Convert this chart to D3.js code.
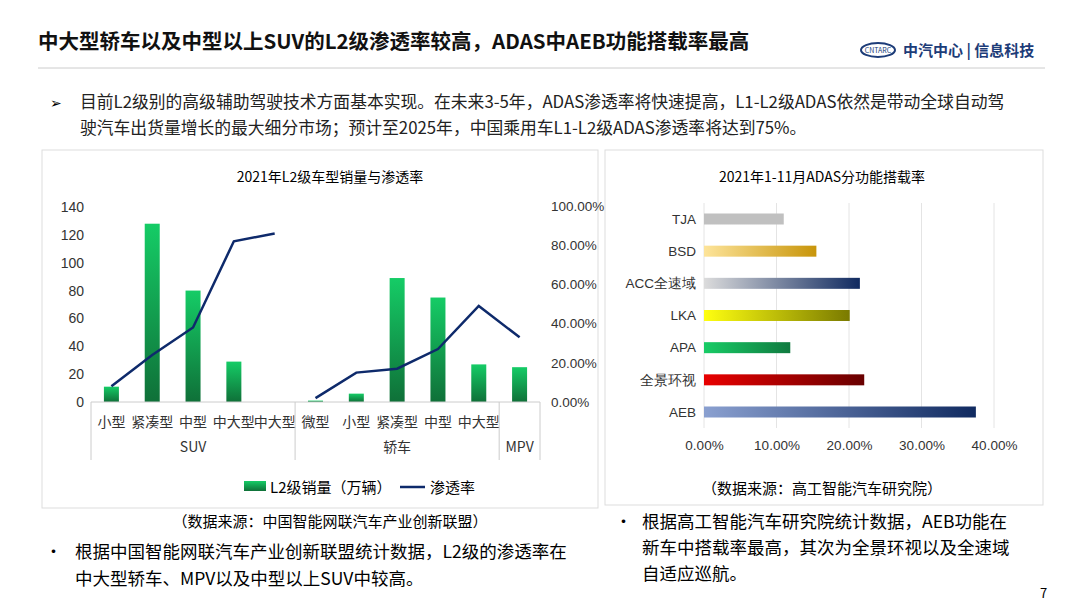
<!DOCTYPE html>
<html><head><meta charset="utf-8">
<script src="https://cdn.jsdelivr.net/npm/d3@7"></script>
<style>body{margin:0;background:#fff}svg{font-family:"Microsoft YaHei","Noto Sans CJK SC",sans-serif}</style>
</head><body><svg id="c" width="1080" height="608"></svg>
<script>
const categories = ["小型","紧凑型","中型","中大型","中大型","微型","小型","紧凑型","中型","中大型",""];
const groups = [{name:"SUV",from:0,to:5},{name:"轿车",from:5,to:10},{name:"MPV",from:10,to:11}];
const sales = [11,128,80,29,0,1,6,89,75,27,25];
const rate = [0.08,0.24,0.38,0.82,0.86,0.02,0.15,0.17,0.27,0.49,0.33];
const features = ["TJA","BSD","ACC全速域","LKA","APA","全景环视","AEB"];
const loadRate = [0.11,0.155,0.215,0.201,0.119,0.221,0.375];
const featColors = [["#c0c0c0","#c0c0c0"],["#fde49a","#c8950a"],["#dcdcdc","#102a60"],["#ffff10","#7a7a00"],["#18cc66","#107a40"],["#e80000","#680000"],["#8aa0d0","#102a60"]];

const svg = d3.select("#c");
const defs = svg.append("defs");

// header
svg.append("text").attr("x",38).attr("y",49).attr("font-size",20.5).attr("font-weight","bold").attr("fill","#111")
  .text("中大型轿车以及中型以上SUV的L2级渗透率较高，ADAS中AEB功能搭载率最高");
svg.append("line").attr("x1",38).attr("x2",1045).attr("y1",68).attr("y2",68).attr("stroke","#ccc");
svg.append("ellipse").attr("cx",878).attr("cy",50).attr("rx",17).attr("ry",7).attr("fill","none").attr("stroke","#1d3c78").attr("stroke-width",2);
svg.append("text").attr("x",878).attr("y",53).attr("text-anchor","middle").attr("font-size",7).attr("fill","#1d3c78").text("CNTARC");
svg.append("text").attr("x",903).attr("y",56).attr("font-size",15).attr("font-weight","bold").attr("fill","#1d3c78").text("中汽中心 | 信息科技");
svg.append("text").attr("x",50).attr("y",108).attr("font-size",14).text("➢");
svg.append("text").attr("x",80).attr("y",108).attr("font-size",16.8).attr("fill","#222")
  .text("目前L2级别的高级辅助驾驶技术方面基本实现。在未来3-5年，ADAS渗透率将快速提高，L1-L2级ADAS依然是带动全球自动驾");
svg.append("text").attr("x",80).attr("y",134).attr("font-size",16.8).attr("fill","#222")
  .text("驶汽车出货量增长的最大细分市场；预计至2025年，中国乘用车L1-L2级ADAS渗透率将达到75%。");

// panel borders
svg.append("rect").attr("x",42).attr("y",150).attr("width",556).attr("height",358).attr("fill","none").attr("stroke","#ddd");
svg.append("rect").attr("x",605).attr("y",150).attr("width",438).attr("height",355).attr("fill","none").attr("stroke","#ddd");

// left chart
const xs = d3.scaleBand().domain(d3.range(categories.length)).range([91,540]);
const cx = i => xs(i) + xs.bandwidth()/2;
const bw = 15;
const y = d3.scaleLinear().domain([0,140]).range([402,207]);
const y2 = d3.scaleLinear().domain([0,1]).range([402,206]);
svg.append("text").attr("x",330).attr("y",182).attr("text-anchor","middle").attr("font-size",14).text("2021年L2级车型销量与渗透率");
const gL = svg.append("g").attr("transform","translate(88,0)")
  .call(d3.axisLeft(y).tickValues(d3.range(0,141,20)).tickSize(0).tickPadding(4));
gL.select(".domain").remove();
gL.selectAll("text").attr("font-size",14).attr("fill","#333");
const gR = svg.append("g").attr("transform","translate(547,0)")
  .call(d3.axisRight(y2).tickValues(d3.range(0,1.01,0.2)).tickFormat(d3.format(".2%")).tickSize(0).tickPadding(4));
gR.select(".domain").remove();
gR.selectAll("text").attr("font-size",13.5).attr("fill","#333");
const gb = defs.append("linearGradient").attr("id","gb").attr("x1",0).attr("y1",0).attr("x2",0).attr("y2",1);
gb.append("stop").attr("offset",0).attr("stop-color","#15cc66");
gb.append("stop").attr("offset",1).attr("stop-color","#0f7038");
svg.append("g").selectAll("rect").data(sales).join("rect")
  .attr("x",(d,i)=>cx(i)-bw/2).attr("width",bw).attr("y",d=>y(d)).attr("height",d=>402-y(d)).attr("fill","url(#gb)");
const line = d3.line().x(d=>cx(d.i)).y(d=>y2(d.v));
const pts = rate.map((v,i)=>({v,i}));
svg.append("path").attr("fill","none").attr("stroke","#0e2a6b").attr("stroke-width",2.5)
  .attr("d",line(pts.slice(0,5)) + line(pts.slice(5)));
// category axis
svg.append("line").attr("x1",91).attr("x2",540).attr("y1",402).attr("y2",402).attr("stroke","#ccc");
svg.append("g").selectAll("text").data(categories).join("text")
  .attr("x",(d,i)=>cx(i)).attr("y",427).attr("text-anchor","middle").attr("font-size",14).attr("fill","#333").text(d=>d);
svg.append("g").selectAll("line").data([0,5,10,11]).join("line")
  .attr("x1",d=>xs.step()*d+91).attr("x2",d=>xs.step()*d+91).attr("y1",402).attr("y2",460).attr("stroke","#ccc");
svg.append("g").selectAll("text").data(groups).join("text")
  .attr("x",d=>91+xs.step()*(d.from+d.to)/2).attr("y",452).attr("text-anchor","middle").attr("font-size",14).attr("fill","#333").text(d=>d.name);
// legend
svg.append("rect").attr("x",244).attr("y",481).attr("width",22).attr("height",10).attr("fill","url(#gb)");
svg.append("text").attr("x",270).attr("y",493).attr("font-size",15).text("L2级销量（万辆）");
svg.append("line").attr("x1",400).attr("x2",425).attr("y1",487).attr("y2",487).attr("stroke","#0e2a6b").attr("stroke-width",2.5);
svg.append("text").attr("x",430).attr("y",493).attr("font-size",15).text("渗透率");
svg.append("text").attr("x",330).attr("y",527).attr("text-anchor","middle").attr("font-size",15).text("（数据来源：中国智能网联汽车产业创新联盟）");
svg.append("text").attr("x",45).attr("y",558).attr("font-size",17).text("•");
svg.append("text").attr("x",75).attr("y",558).attr("font-size",17.5).text("根据中国智能网联汽车产业创新联盟统计数据，L2级的渗透率在");
svg.append("text").attr("x",75).attr("y",585).attr("font-size",17.5).text("中大型轿车、MPV以及中型以上SUV中较高。");

// right chart
svg.append("text").attr("x",822).attr("y",182).attr("text-anchor","middle").attr("font-size",14).text("2021年1-11月ADAS分功能搭载率");
const hx = d3.scaleLinear().domain([0,0.4]).range([704,994]);
const hy = d3.scalePoint().domain(features).range([219,412]);
const bh = 11;
svg.append("g").selectAll("line").data(d3.range(0,0.41,0.1)).join("line")
  .attr("x1",d=>hx(d)).attr("x2",d=>hx(d)).attr("y1",203).attr("y2",428).attr("stroke","#e4e4e4");
const ga = svg.append("g").attr("transform","translate(0,432)")
  .call(d3.axisBottom(hx).tickValues(d3.range(0,0.41,0.1)).tickFormat(d3.format(".2%")).tickSize(0).tickPadding(8));
ga.select(".domain").remove(); ga.selectAll("text").attr("font-size",13.5).attr("fill","#333");
const gy = svg.append("g").attr("transform","translate(700,0)").call(d3.axisLeft(hy).tickSize(0).tickPadding(4));
gy.select(".domain").remove(); gy.selectAll("text").attr("font-size",13.5).attr("fill","#333");
features.forEach((f,i)=>{
  const g = defs.append("linearGradient").attr("id","h"+i);
  g.append("stop").attr("offset",0).attr("stop-color",featColors[i][0]);
  g.append("stop").attr("offset",1).attr("stop-color",featColors[i][1]);
});
svg.append("g").selectAll("rect").data(loadRate).join("rect")
  .attr("x",hx(0)).attr("y",(d,i)=>hy(features[i])-bh/2).attr("height",bh)
  .attr("width",d=>hx(d)-hx(0)).attr("fill",(d,i)=>`url(#h${i})`);
svg.append("text").attr("x",822).attr("y",494).attr("text-anchor","middle").attr("font-size",15).text("（数据来源：高工智能汽车研究院）");
svg.append("text").attr("x",615).attr("y",528).attr("font-size",17).text("•");
svg.append("text").attr("x",642).attr("y",528).attr("font-size",17.5).text("根据高工智能汽车研究院统计数据，AEB功能在");
svg.append("text").attr("x",642).attr("y",554).attr("font-size",17.5).text("新车中搭载率最高，其次为全景环视以及全速域");
svg.append("text").attr("x",642).attr("y",580).attr("font-size",17.5).text("自适应巡航。");
svg.append("text").attr("x",1040).attr("y",598).attr("font-size",13).text("7");
</script></body></html>
